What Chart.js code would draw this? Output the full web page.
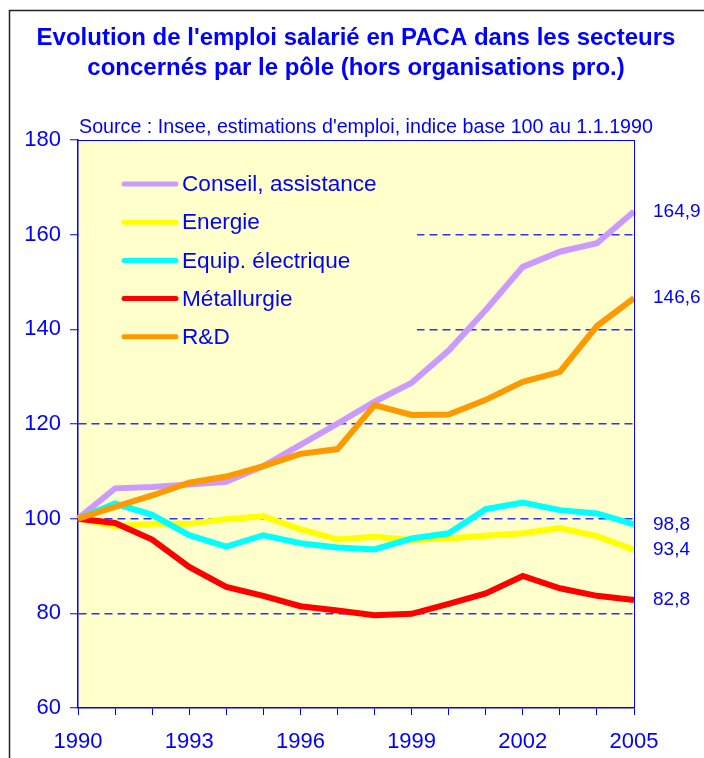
<!DOCTYPE html>
<html>
<head>
<meta charset="utf-8">
<script src="https://cdn.jsdelivr.net/npm/chart.js@4/dist/chart.umd.min.js"></script>
<style>
  html, body { margin: 0; padding: 0; background: #fff; }
  #wrap { width: 704px; height: 758px; }
</style>
</head>
<body>
<div id="wrap"><canvas id="emploi-chart" width="704" height="758"></canvas></div>
<script>
// Emploi salarié PACA, indice base 100 au 1.1.1990

const annees = ['1990', '1991', '1992', '1993', '1994', '1995', '1996', '1997',
    '1998', '1999', '2000', '2001', '2002', '2003', '2004', '2005'];

const conseil = [100, 106.4, 106.7, 107.2, 107.8, 111.1, 115.6, 120.1, 124.7, 128.7, 135.5, 144.1, 153.2, 156.4, 158.2, 164.9];
const energie = [100, 98.4, 98.9, 98.9, 99.9, 100.5, 97.8, 95.6, 96.2, 95.5, 95.8, 96.4, 96.9, 98.0, 96.3, 93.4];
const equipElec = [100, 103.2, 100.8, 96.5, 94.1, 96.5, 94.8, 93.9, 93.5, 95.8, 96.9, 102.0, 103.4, 101.8, 101.1, 98.8];
const metallurgie = [100, 99.1, 95.6, 89.8, 85.6, 83.7, 81.5, 80.6, 79.6, 79.9, 82.0, 84.2, 87.9, 85.3, 83.7, 82.8];
const rd = [100, 102.5, 104.9, 107.6, 108.9, 111.1, 113.7, 114.7, 124.0, 121.9, 122.0, 125.1, 128.9, 131.0, 140.7, 146.6];

const titre = ["Evolution de l'emploi salarié en PACA dans les secteurs",
    'concernés par le pôle (hors organisations pro.)'];
const source = "Source : Insee, estimations d'emploi, indice base 100 au 1.1.1990";

const BLEU = '#0000ff';
const POLICE = 'Arial, "Liberation Sans", sans-serif';

// Fond jaune, légende, titres, valeurs finales
const decorPlugin = {
    id: 'decor',
    beforeDraw(chart) {
        const { ctx, chartArea: a } = chart;
        ctx.save();
        ctx.fillStyle = '#fff';
        ctx.fillRect(0, 0, chart.width, chart.height);
        // cadre extérieur
        ctx.strokeStyle = '#222';
        ctx.lineWidth = 1.5;
        ctx.beginPath();
        ctx.moveTo(9.5, chart.height);
        ctx.lineTo(9.5, 10.5);
        ctx.lineTo(chart.width, 10.5);
        ctx.stroke();
        ctx.fillStyle = '#ffffcc';
        ctx.fillRect(a.left, a.top, a.right - a.left, a.bottom - a.top);
        ctx.restore();
    },
    beforeDatasetsDraw(chart) {
        const { ctx, chartArea: a } = chart;
        // la légende masque les pointillés
        ctx.save();
        ctx.fillStyle = '#ffffcc';
        ctx.fillRect(a.left + 1, a.top + 1, 416 - a.left, 222);
        ctx.restore();
    },
    afterDraw(chart) {
        const { ctx, chartArea: a } = chart;
        ctx.save();
        // bord haut et droit
        ctx.strokeStyle = BLEU;
        ctx.lineWidth = 1;
        ctx.beginPath();
        ctx.moveTo(a.left, a.top + 0.5);
        ctx.lineTo(a.right, a.top + 0.5);
        ctx.moveTo(a.right + 0.5, a.top);
        ctx.lineTo(a.right + 0.5, a.bottom);
        ctx.stroke();

        ctx.fillStyle = BLEU;
        ctx.textAlign = 'center';
        ctx.textBaseline = 'alphabetic';
        ctx.font = 'bold 24px ' + POLICE;
        ctx.fillText(titre[0], 356, 44.5);
        ctx.fillText(titre[1], 356, 75);

        ctx.textAlign = 'left';
        ctx.font = '19.7px ' + POLICE;
        ctx.fillText(source, 79, 133);

        // légende
        ctx.font = '22.6px ' + POLICE;
        ctx.textBaseline = 'middle';
        chart.data.datasets.forEach((ds, i) => {
            const y = 184 + i * 38.2;
            ctx.strokeStyle = ds.borderColor;
            ctx.lineWidth = 5;
            ctx.lineCap = 'round';
            ctx.beginPath();
            ctx.moveTo(124, y);
            ctx.lineTo(176, y);
            ctx.stroke();
            ctx.fillStyle = BLEU;
            ctx.fillText(ds.label, 182, y + 1);
        });

        // valeurs 2005
        ctx.font = '19px ' + POLICE;
        const yScale = chart.scales.y;
        chart.data.datasets.forEach(ds => {
            const v = ds.data[ds.data.length - 1];
            ctx.fillText(v.toFixed(1).replace('.', ','), 653, yScale.getPixelForValue(v));
        });
        ctx.restore();
    }
};

function serie(label, data, color, order) {
    return {
        label: label,
        data: data,
        borderColor: color,
        backgroundColor: color,
        borderWidth: 6,
        pointRadius: 0,
        tension: 0,
        order: order
    };
}

new Chart(document.getElementById('emploi-chart'), {
    type: 'line',
    data: {
        labels: annees,
        datasets: [
            serie('Conseil, assistance', conseil, '#cc99ff', 5),
            serie('Energie', energie, '#ffff00', 4),
            serie('Equip. électrique', equipElec, '#00ffff', 3),
            serie('Métallurgie', metallurgie, '#ff0000', 2),
            serie('R&D', rd, '#ff9900', 1)
        ]
    },
    options: {
        responsive: false,
        animation: false,
        layout: { padding: { left: 0, top: 140, right: 70, bottom: 0 } },
        plugins: {
            legend: { display: false },
            title: { display: false },
            tooltip: { enabled: false }
        },
        scales: {
            x: {
                offset: false,
                afterFit: (s) => { s.height = 50; },
                grid: {
                    drawOnChartArea: false,
                    tickLength: 7,
                    tickColor: BLEU
                },
                border: { color: BLEU, width: 1.5 },
                ticks: {
                    autoSkip: false,
                    maxRotation: 0,
                    padding: 14,
                    color: BLEU,
                    font: { family: POLICE, size: 22 },
                    callback: (v, i) => (i % 3 === 0 ? annees[i] : '')
                }
            },
            y: {
                min: 60,
                max: 180,
                afterFit: (s) => { s.width = 78; },
                grid: {
                    // pas de pointillés sur les bords haut et bas
                    color: (c) => (c.tick && (c.tick.value === 60 || c.tick.value === 180) ? 'rgba(0,0,0,0)' : '#3030ff'),
                    lineWidth: 1.5,
                    tickLength: 8,
                    tickColor: BLEU,
                    tickWidth: 1,
                    tickBorderDash: []
                },
                border: { color: BLEU, width: 1.5, dash: [8, 5] },
                ticks: {
                    stepSize: 20,
                    padding: 9,
                    color: BLEU,
                    font: { family: POLICE, size: 22 }
                }
            }
        }
    },
    plugins: [decorPlugin]
});
</script>
</body>
</html>
